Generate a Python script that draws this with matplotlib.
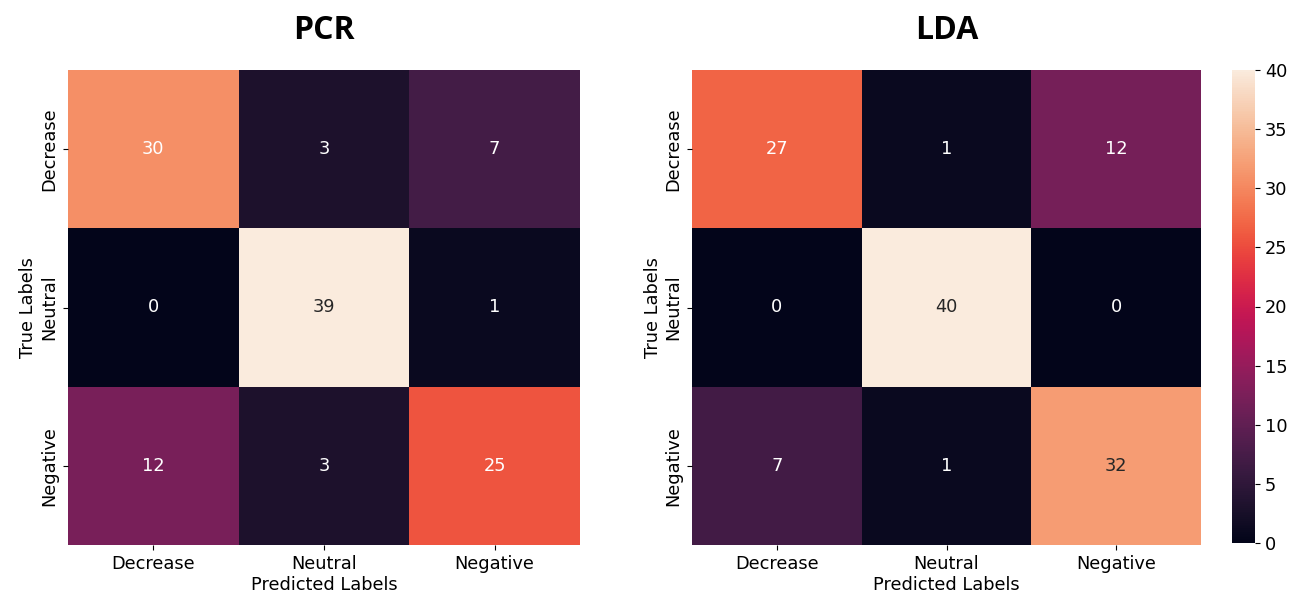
import matplotlib
matplotlib.use('Agg')
import matplotlib.pyplot as plt
import seaborn as sns
import numpy as np

class_labels = ['Decrease', 'Neutral', 'Negative']
cm_pcr = np.array([[30, 3, 7],
                   [0, 39, 1],
                   [12, 3, 25]])
cm_lda = np.array([[27, 1, 12],
                   [0, 40, 0],
                   [7, 1, 32]])

W, H = 1303, 601
fig = plt.figure(figsize=(W / 100, H / 100), dpi=100)

def box(x0, x1, y0, y1):
    return [x0 / W, 1 - y1 / H, (x1 - x0) / W, (y1 - y0) / H]

ax1 = fig.add_axes(box(68, 580, 70, 545))
ax2 = fig.add_axes(box(692, 1201, 70, 545))
cax = fig.add_axes(box(1232, 1255, 70, 543))

fs = 12.8
sns.heatmap(cm_pcr, annot=True, fmt='d', cbar=False, ax=ax1,
            xticklabels=class_labels, yticklabels=class_labels,
            annot_kws={'fontsize': fs})
sns.heatmap(cm_lda, annot=True, fmt='d', ax=ax2, cbar_ax=cax,
            xticklabels=class_labels, yticklabels=class_labels,
            annot_kws={'fontsize': fs})
cax.tick_params(labelsize=fs)

for ax, title in [(ax1, 'PCR'), (ax2, 'LDA')]:
    ax.set_xlabel('Predicted Labels', fontsize=fs, labelpad=2)
    ax.set_ylabel('True Labels', fontsize=fs, labelpad=2)
    ax.tick_params(labelsize=fs)
    ax.set_title(title, fontsize=23, fontweight='bold',
                 family='Open Sans', pad=22)

fig.savefig('out.png', dpi=100)
